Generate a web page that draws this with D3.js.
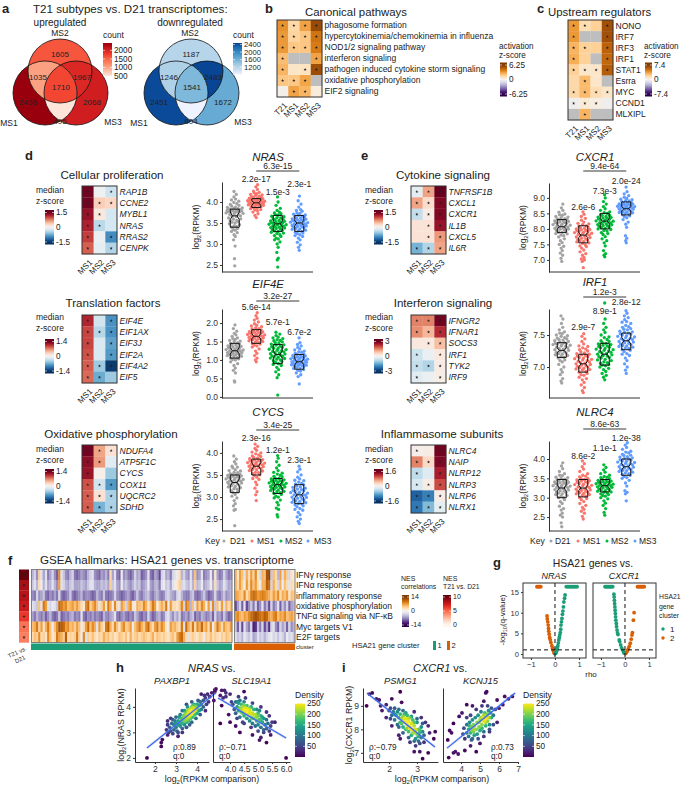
<!DOCTYPE html>
<html><head><meta charset="utf-8">
<script src="https://cdn.jsdelivr.net/npm/d3@7"></script>
<style>
body{margin:0;background:#fff}
text{font-family:"Liberation Sans",Arial,Helvetica,sans-serif;fill:#222}
.tick text{fill:#333}
</style></head><body><div id="chart"></div>
<script>
// venn counts: [sets, count]
const vennUp = [[[0],2436],[[1],1605],[[2],2068],[[0,1],1035],[[1,2],1967],[[0,2],495],[[0,1,2],1710]]
const vennDown = [[[0],2451],[[1],1187],[[2],1672],[[0,1],1246],[[1,2],2483],[[0,2],804],[[0,1,2],1541]]
const redsRamp = ["#FEE5D9","#FCBBA1","#FC9272","#FB6A4A","#EF3B2C","#CB181D","#99000D"]
const bluesRamp = ["#EFF3FF","#C6DBEF","#9ECAE1","#6BAED6","#4292C6","#2171B5","#084594"]

// panels b, c
const subtypes4 = ["T21","MS1","MS2","MS3"]
const subtypes3 = ["MS1","MS2","MS3"]
const pathways = ["phagosome formation","hypercytokinemia/chemokinemia in influenza","NOD1/2 signaling pathway","interferon signaling","pathogen induced cytokine storm signaling","oxidative phosphorylation","EIF2 signaling"]
const pathwayZ = [[3.4,1.4,3,5.6],[3.2,1.6,2,4.2],[3.2,2,2,4],[2.3,null,null,3],[2.5,.9,1,5.5],[2,2,2.9,null],[.1,3,2.5,.5]]
const pathwaySig = [[1,1,1,1],[1,1,1,1],[1,1,1,1],[1,0,0,1],[1,0,1,1],[1,1,1,0],[0,1,1,0]]
const regulators = ["NONO","IRF7","IRF3","IRF1","STAT1","Esrra","MYC","CCND1","MLXIPL"]
const regulatorZ = [[3.8,1.5,2,6.4],[3.8,null,null,6.4],[3,2,2,5.6],[3.2,2,null,5.4],[2,1,1,5.8],[1.7,2.8,1,null],[1.7,2.8,1.5,1],[-.2,.7,.4,-.2],[null,3,null,null]]
const regulatorSig = [[1,1,0,1],[1,0,0,1],[1,1,0,1],[1,0,0,1],[1,1,1,1],[0,1,0,0],[1,1,1,1],[1,1,1,0],[0,1,0,0]]

// panels d, e heatmaps
const prolifGenes = ["RAP1B","CCNE2","MYBL1","NRAS","RRAS2","CENPK"]
const prolifZ = [[1.45,-.05,-.3],[1.45,.35,.3],[1.3,.15,-.25],[1.2,-.4,-.25],[1.05,-.08,-.95],[.9,-.15,-.45]]
const prolifSig = [[1,0,1],[1,1,1],[1,1,0],[1,1,0],[1,0,1],[1,0,1]]
const transGenes = ["EIF4E","EIF1AX","EIF3J","EIF2A","EIF4A2","EIF5"]
const transZ = [[1.1,-.25,-.85],[.95,-.4,-.85],[.95,-.2,-.75],[.9,-.2,-.8],[.85,-.5,-1.35],[.8,-.7,-.5]]
const transSig = [[1,0,1],[1,1,1],[1,0,1],[1,0,1],[1,1,1],[1,1,0]]
const oxphosGenes = ["NDUFA4","ATP5F1C","CYCS","COX11","UQCRC2","SDHD"]
const oxphosZ = [[1.35,.55,.2],[1.25,.6,-.15],[1.2,.05,-.5],[.9,-.25,-.8],[.85,.2,-.45],[.85,-.65,-.45]]
const oxphosSig = [[1,1,1],[1,1,0],[1,0,0],[1,1,1],[1,1,1],[1,1,1]]
const cytoGenes = ["TNFRSF1B","CXCL1","CXCR1","IL1B","CXCL5","IL6R"]
const cytoZ = [[-.15,.6,1.5],[.6,.25,1.4],[-.35,.1,1.4],[.2,.2,1.3],[.2,.2,.65],[-.7,-.45,.6]]
const cytoSig = [[1,1,1],[1,1,1],[1,1,1],[0,1,1],[0,1,1],[1,1,1]]
const ifnGenes = ["IFNGR2","IFNAR1","SOCS3","IRF1","TYK2","IRF9"]
const ifnZ = [[1.5,1.5,2.9],[1.4,1,2.3],[.3,.3,.9],[-.6,-.2,.3],[-.7,-.9,.2],[-.35,-.15,.15]]
const ifnSig = [[1,1,1],[1,1,1],[0,1,1],[1,0,1],[1,1,1],[1,0,1]]
const inflamGenes = ["NLRC4","NAIP","NLRP12","NLRP3","NLRP6","NLRX1"]
const inflamZ = [[.07,.1,1.55],[.8,.3,1.5],[-.4,-.2,1.3],[-.25,.1,1.05],[-1.3,-1.1,.1],[-1.15,-.7,-.15]]
const inflamSig = [[1,0,1],[1,1,1],[1,0,1],[1,1,1],[1,1,1],[1,1,1]]

// swarm values, log2 RPKM
const nrasD21 = [2.48,2.65,2.95,3.1,3.18,3.22,3.27,3.3,3.34,3.37,3.4,3.43,3.46,3.5,3.53,3.56,3.59,3.62,3.65,3.67,3.7,3.72,3.74,3.76,3.77,3.78,3.79,3.8,3.8,3.82,3.84,3.86,3.88,3.92,3.96,4.02,4.07,4.12,4.18,4.25,3.33,3.41,3.48,3.55,3.6,3.66,3.7,3.73,3.75,3.77,3.79,3.81,3.83,3.85,3.87,3.9,3.94,3.99,4.05,3.52]
const nrasMS1 = [3.63,3.68,3.72,3.76,3.79,3.82,3.84,3.86,3.88,3.9,3.91,3.93,3.94,3.95,3.96,3.97,3.98,3.99,4,4,4.01,4.02,4.03,4.04,4.05,4.06,4.08,4.1,4.12,4.14,4.16,4.18,4.2,4.23,4.26,4.3,4.36,4.41,3.81,3.85,3.89,3.92,3.94,3.96,3.98,4,4.01,4.03,4.05,4.07,4.09,4.11,4.13,4.17,4.22]
const nrasMS2 = [2.45,2.62,2.66,2.8,2.92,3,3.05,3.1,3.14,3.18,3.22,3.25,3.28,3.31,3.34,3.36,3.38,3.4,3.42,3.44,3.46,3.48,3.5,3.52,3.54,3.56,3.58,3.6,3.63,3.66,3.69,3.72,3.76,3.8,3.85,3.92,4,4.12,3.12,3.2,3.26,3.3,3.33,3.37,3.39,3.41,3.43,3.45,3.47,3.49,3.51,3.53,3.55,3.59,3.62,3.65,3.7,3.74]
const nrasMS3 = [2.85,2.92,2.98,3.04,3.1,3.14,3.18,3.22,3.25,3.28,3.3,3.33,3.35,3.37,3.39,3.41,3.43,3.45,3.47,3.49,3.5,3.52,3.54,3.56,3.58,3.6,3.62,3.64,3.66,3.68,3.71,3.74,3.78,3.82,3.88,3.95,4.03,4.14,3.2,3.26,3.31,3.36,3.4,3.42,3.44,3.46,3.48,3.51,3.53,3.55,3.57,3.59,3.61,3.65,3.69,3.73,3.8]
const eif4eD21 = [.4,.43,.65,.72,.78,.85,.9,.95,1,1.03,1.06,1.09,1.12,1.14,1.16,1.18,1.2,1.22,1.24,1.26,1.28,1.3,1.33,1.35,1.38,1.4,1.43,1.46,1.5,1.53,1.56,1.6,1.64,1.68,1.72,1.78,1.85,1.95,1.01,1.05,1.1,1.13,1.15,1.17,1.19,1.21,1.23,1.25,1.27,1.29,1.31,1.34,1.37,1.41,1.45,1.51,1.58]
const eif4eMS1 = [.95,1,1.05,1.12,1.18,1.24,1.3,1.35,1.4,1.44,1.47,1.5,1.53,1.55,1.57,1.59,1.61,1.63,1.65,1.67,1.69,1.71,1.73,1.75,1.77,1.79,1.81,1.84,1.87,1.9,1.94,1.98,2.03,2.08,2.13,2.2,2.28,1.38,1.43,1.48,1.52,1.56,1.58,1.6,1.62,1.64,1.66,1.68,1.7,1.72,1.74,1.76,1.8,1.85,1.92]
const eif4eMS2 = [.05,.52,.6,.68,.74,.8,.85,.9,.94,.98,1.02,1.05,1.08,1.11,1.14,1.17,1.2,1.23,1.26,1.29,1.31,1.34,1.37,1.4,1.43,1.46,1.49,1.52,1.55,1.58,1.62,1.66,1.7,1.75,.88,.96,1,1.04,1.07,1.1,1.13,1.16,1.19,1.22,1.25,1.28,1.32,1.36,1.41,1.47,1.53,1.6]
const eif4eMS3 = [.35,.55,.6,.65,.7,.74,.77,.8,.83,.85,.87,.89,.91,.93,.95,.97,.99,1.01,1.03,1.05,1.07,1.09,1.11,1.13,1.15,1.18,1.21,1.24,1.27,1.3,1.34,1.38,1.42,1.47,1.6,.72,.78,.82,.84,.86,.88,.9,.92,.94,.96,.98,1,1.02,1.04,1.06,1.08,1.12,1.16,1.22]
const cycsD21 = [2.35,2.7,2.72,2.8,2.85,2.92,2.98,3.02,3.06,3.1,3.14,3.18,3.21,3.24,3.27,3.29,3.31,3.33,3.35,3.37,3.39,3.41,3.43,3.45,3.47,3.49,3.51,3.53,3.56,3.59,3.62,3.66,3.7,3.75,3.8,3.86,3.93,3.12,3.19,3.23,3.26,3.3,3.32,3.34,3.36,3.38,3.4,3.42,3.44,3.46,3.48,3.5,3.52,3.55,3.6,3.68]
const cycsMS1 = [2.92,3.05,3.12,3.2,3.28,3.34,3.4,3.45,3.49,3.53,3.56,3.59,3.62,3.65,3.67,3.69,3.71,3.73,3.75,3.77,3.79,3.81,3.83,3.85,3.87,3.9,3.92,3.95,3.98,4.02,4.06,4.1,4.15,4.2,3.42,3.5,3.55,3.6,3.63,3.66,3.68,3.7,3.72,3.74,3.76,3.78,3.8,3.82,3.84,3.88,3.93,4]
const cycsMS2 = [2.55,2.6,2.72,2.75,2.82,2.88,2.93,2.98,3.02,3.06,3.1,3.13,3.16,3.19,3.21,3.23,3.25,3.27,3.29,3.31,3.33,3.35,3.37,3.39,3.41,3.43,3.46,3.49,3.52,3.56,3.6,3.66,3.72,3.8,3.88,3.94,3,3.08,3.12,3.15,3.18,3.2,3.22,3.24,3.26,3.28,3.3,3.32,3.34,3.36,3.38,3.42,3.47,3.54]
const cycsMS3 = [2.4,2.45,2.5,2.55,2.6,2.65,2.7,2.74,2.78,2.82,2.85,2.88,2.91,2.94,2.97,3,3.03,3.05,3.08,3.1,3.12,3.15,3.17,3.2,3.22,3.25,3.28,3.31,3.34,3.37,3.41,3.45,3.5,3.57,3.63,3.7,2.72,2.8,2.84,2.87,2.9,2.93,2.96,2.99,3.01,3.04,3.06,3.09,3.11,3.14,3.18,3.23,3.3,3.38]
const cxcr1D21 = [6.95,7.05,7.15,7.22,7.3,7.38,7.44,7.5,7.56,7.62,7.68,7.74,7.8,7.85,7.89,7.93,7.97,8,8.03,8.06,8.09,8.12,8.15,8.18,8.21,8.24,8.27,8.3,8.33,8.36,8.4,8.44,8.48,8.54,8.6,8.68,8.8,7.78,7.84,7.9,7.95,7.99,8.02,8.05,8.08,8.11,8.14,8.17,8.2,8.23,8.26,8.29,8.32,8.38,8.46]
const cxcr1MS1 = [6.75,6.95,7,7.03,7.08,7.15,7.2,7.26,7.32,7.38,7.43,7.48,7.53,7.58,7.62,7.66,7.7,7.74,7.78,7.82,7.85,7.88,7.91,7.94,7.97,8,8.03,8.06,8.1,8.14,8.18,8.22,8.28,8.34,8.4,8.47,8.55,7.45,7.55,7.6,7.64,7.68,7.72,7.76,7.8,7.83,7.86,7.89,7.92,7.95,7.98,8.02,8.08,8.16]
const cxcr1MS2 = [7.1,7.15,7.2,7.3,7.45,7.55,7.62,7.68,7.75,7.82,7.88,7.93,7.98,8.02,8.06,8.1,8.13,8.16,8.19,8.22,8.25,8.28,8.31,8.34,8.37,8.4,8.43,8.46,8.5,8.55,8.6,8.65,8.72,8.8,8.88,9,9.1,7.85,7.95,8,8.04,8.08,8.11,8.14,8.17,8.2,8.23,8.26,8.29,8.32,8.35,8.38,8.44,8.52]
const cxcr1MS3 = [7.55,7.62,7.7,7.78,8.05,8.15,8.22,8.3,8.36,8.42,8.46,8.5,8.53,8.56,8.59,8.62,8.65,8.67,8.69,8.71,8.73,8.75,8.77,8.79,8.81,8.83,8.85,8.88,8.91,8.94,8.98,9.02,9.07,9.13,9.2,9.35,8.4,8.48,8.52,8.55,8.58,8.61,8.64,8.66,8.68,8.7,8.72,8.74,8.76,8.78,8.8,8.84,8.9,8.96]
const irf1D21 = [6.75,6.78,6.82,6.88,6.92,6.96,7,7.04,7.08,7.11,7.14,7.16,7.18,7.2,7.22,7.24,7.26,7.28,7.3,7.32,7.33,7.34,7.35,7.36,7.37,7.38,7.4,7.42,7.44,7.46,7.48,7.5,7.52,7.55,7.58,7.62,7.68,7.75,7.8,7.1,7.15,7.19,7.21,7.23,7.25,7.27,7.29,7.31,7.35,7.37,7.39,7.41,7.43,7.45,7.49,7.53]
const irf1MS1 = [6.6,6.63,6.68,6.72,6.76,6.8,6.84,6.87,6.9,6.93,6.95,6.97,6.99,7.01,7.03,7.05,7.07,7.09,7.1,7.12,7.14,7.16,7.18,7.2,7.22,7.25,7.27,7.3,7.33,7.36,7.4,7.44,7.48,7.52,6.82,6.88,6.92,6.96,6.98,7,7.02,7.04,7.06,7.08,7.11,7.13,7.15,7.17,7.19,7.21,7.24,7.28,7.32]
const irf1MS2 = [6.8,6.84,6.87,6.9,6.93,6.96,6.98,7,7.02,7.04,7.06,7.08,7.1,7.12,7.14,7.16,7.18,7.2,7.22,7.24,7.26,7.28,7.3,7.32,7.34,7.36,7.38,7.4,7.43,7.46,7.5,7.54,7.58,7.62,7.68,7.75,8,7.03,7.07,7.11,7.15,7.17,7.19,7.21,7.23,7.25,7.27,7.29,7.31,7.33,7.35,7.37,7.41,7.47]
const irf1MS3 = [6.9,6.95,7,7.05,7.1,7.14,7.18,7.21,7.24,7.27,7.3,7.32,7.34,7.36,7.38,7.4,7.42,7.44,7.46,7.48,7.5,7.52,7.54,7.56,7.58,7.6,7.62,7.65,7.68,7.71,7.74,7.77,7.8,7.84,7.88,7.2,7.26,7.29,7.31,7.33,7.35,7.37,7.39,7.41,7.43,7.45,7.47,7.49,7.51,7.53,7.55,7.59,7.63,7.7]
const nlrc4D21 = [2.25,2.35,2.5,2.55,2.6,2.68,2.72,2.78,2.85,2.9,2.95,3,3.04,3.08,3.12,3.15,3.18,3.2,3.23,3.26,3.28,3.3,3.33,3.35,3.38,3.4,3.42,3.45,3.48,3.5,3.53,3.57,3.62,3.68,3.75,3.82,3.9,3,3.06,3.1,3.14,3.17,3.21,3.25,3.27,3.29,3.31,3.34,3.37,3.39,3.41,3.44,3.47,3.52,3.58]
const nlrc4MS1 = [2.45,2.52,2.6,2.65,2.7,2.75,2.8,2.85,2.9,2.95,3,3.04,3.08,3.11,3.14,3.17,3.2,3.23,3.26,3.29,3.32,3.35,3.38,3.41,3.44,3.47,3.5,3.54,3.58,3.62,3.68,3.74,3.8,3.88,3.95,2.98,3.06,3.1,3.13,3.16,3.19,3.22,3.25,3.28,3.31,3.34,3.37,3.4,3.43,3.46,3.5,3.56]
const nlrc4MS2 = [2.55,2.62,2.72,2.8,2.86,2.92,2.97,3,3.04,3.08,3.12,3.15,3.18,3.21,3.24,3.27,3.29,3.31,3.33,3.35,3.37,3.39,3.41,3.43,3.46,3.49,3.52,3.55,3.58,3.62,3.66,3.72,3.78,3.85,3.06,3.1,3.14,3.17,3.2,3.23,3.26,3.28,3.3,3.32,3.34,3.36,3.38,3.4,3.42,3.45,3.48,3.53]
const nlrc4MS3 = [2.92,3.1,3.14,3.18,3.3,3.38,3.45,3.5,3.55,3.6,3.64,3.68,3.71,3.74,3.77,3.8,3.83,3.86,3.89,3.92,3.95,3.98,4,4.03,4.06,4.09,4.12,4.16,4.2,4.25,4.3,4.36,4.42,3.52,3.58,3.62,3.66,3.7,3.73,3.76,3.79,3.82,3.85,3.88,3.91,3.94,3.97,4.01,4.05,4.1,4.18]

// notched boxes: q1, notch low, median, notch high, q3
const nrasBox = [[3.4,3.58,3.67,3.76,3.83],[3.87,3.92,3.98,4.04,4.08],[3.3,3.42,3.48,3.54,3.68],[3.3,3.44,3.5,3.56,3.68]]
const eif4eBox = [[1.05,1.16,1.25,1.34,1.45],[1.45,1.57,1.64,1.71,1.82],[.9,1.05,1.15,1.25,1.42],[.75,.87,.95,1.03,1.15]]
const cycsBox = [[3.1,3.25,3.33,3.41,3.5],[3.5,3.62,3.7,3.78,3.86],[3.08,3.2,3.28,3.36,3.42],[2.85,2.98,3.05,3.12,3.28]]
const cxcr1Box = [[7.88,8,8.07,8.14,8.3],[7.55,7.72,7.8,7.88,8.1],[8,8.17,8.25,8.33,8.5],[8.45,8.58,8.65,8.72,8.87]]
const irf1Box = [[7.15,7.22,7.26,7.3,7.38],[6.92,7,7.05,7.1,7.2],[7.03,7.14,7.2,7.26,7.37],[7.27,7.36,7.41,7.46,7.53]]
const nlrc4Box = [[3,3.17,3.25,3.33,3.47],[3.02,3.18,3.25,3.32,3.47],[3.15,3.25,3.31,3.37,3.47],[3.58,3.72,3.8,3.88,4]]
const groupNames = ["D21","MS1","MS2","MS3"]
const groupColors = ["#A3A3A3","#F8766D","#00BA38","#619CFF"]

// panel f
const hallmarks = ["IFN\u03B3 response","IFN\u03B1 response","inflammatory response","oxidative phosphorylation","TNF\u03B1 signaling via NF-\u03BAB","Myc targets V1","E2F targets"]
const t21Nes = [10,8.6,8.2,7.6,6.4,4.7,4.3]
const nesCluster1 = [
[-5,-3,-7,4,-2,-6,-2,-8,-6,-3,-7,-9,8,-2,-4,-7,-8,-5,-3,-8,-9,-8,-6,-7,-8,-5,-3,-2,-7,-8,-9,-6,-7,-5,-8,3,-6,-2,-8,-9,-1,-7,-6,-8,-9,-7,-3,-6,-5,-9,-8,-7,-2,-8,-9,-6,-7,-10,-3,-2,-6,-5,-8,-3,-2,-1,3,-5,-3,-6,-7,-2,-6,5,-7,-6,-2,-8,-7,-6,-1,-7,2,-6,-8,-7,-3,-6,-8,-7],
[-4,-2,-5,3,-1,-5,-2,-6,-5,-2,-5,-7,7,-2,-3,-5,-6,-4,-3,-6,-6,-6,-4,-5,-6,-4,-2,-2,-5,-6,-6,-4,-5,-4,-6,4,-4,-2,-6,-7,-1,-5,-4,-6,-7,-5,-3,-5,-4,-7,-6,-5,-1,-6,-7,-5,-5,-8,-2,-1,-4,-3,-6,-2,-1,2,4,-3,-2,-4,-5,-2,-5,4,-5,-4,-1,-6,-5,-4,-1,-5,3,-4,-6,-5,-2,-4,-6,-5],
[-7,-8,-3,-7,-6,-4,-8,-9,-7,-8,-6,-8,-3,-8,-9,-8,-7,-4,-8,-9,-8,-7,-5,-8,-7,-7,-8,-9,-8,-5,-7,-8,-4,-8,-9,-8,-7,-3,-7,-8,-9,-8,-7,-6,-8,-9,-7,-4,-7,-8,-6,-5,-4,-7,-8,-6,-5,-7,-8,-7,-4,-3,-5,-6,-7,-3,-2,-5,-7,-8,-8,-5,-4,-8,-9,-8,-6,-4,-7,-9,-8,-7,-3,-7,-8,-6,-4,-7,-6,-5],
[-2,-3,-4,5,-2,9,7,-2,-3,-1,-2,-4,10,9,7,8,5,6,7,5,7,5,3,1,8,10,4,6,8,5,-2,4,7,2,9,6,-1,8,3,-2,7,5,-3,6,8,2,-1,6,5,4,8,6,2,5,9,7,1,4,6,4,9,-1,7,3,3,2,4,8,-3,9,7,-5,5,-2,7,4,8,6,1,7,-2,8,-4,5,2,7,-2,6,3,5],
[-6,-8,-5,-7,-8,-6,-9,-7,-5,-8,-9,-8,-4,-9,-8,-7,-8,-6,-5,-8,-7,-8,-2,-8,-9,-7,-8,-6,-8,-7,-8,-9,-5,-7,-8,-6,-5,-2,-8,-9,-7,-6,-8,-9,-7,-8,-4,-6,-8,-9,-7,-8,-3,-7,-9,-8,-6,-5,-8,-7,-3,-2,-5,-7,-4,-6,-3,-8,-7,-6,-8,-5,-4,-9,-7,-8,-5,-6,-8,-7,-5,-9,-3,-7,-6,-8,-4,-7,-9,-8],
[5,6,9,4,7,2,6,9,5,-1,5,8,12,11,10,7,8,5,6,4,7,5,-1,3,7,10,5,8,6,-2,7,4,2,9,11,6,3,8,5,2,6,8,4,5,7,-1,5,7,9,6,4,8,10,5,3,7,9,5,8,6,2,-1,7,5,6,4,3,9,-2,10,6,4,9,3,8,6,10,5,7,3,8,-1,5,9,6,3,7,5,4,7],
[3,5,4,8,3,4,2,8,5,2,3,9,7,6,4,11,3,4,3,4,9,4,-1,8,-2,4,3,5,3,2,4,3,6,4,5,3,4,2,3,5,4,3,5,2,6,3,4,5,3,4,5,4,3,4,6,3,5,4,3,4,3,2,4,5,3,7,9,10,6,3,-2,3,4,3,2,4,3,-1,4,3,5,3,4,3,2,4,3,5,4,3]]
const nesCluster2 = [
[6,2,7,5,-2,6,3,7,4,8,2,-3,6,5,12,13,-4,5,3,-5,7,-2,6,4,-3,2,1],
[6,3,7,4,1,7,3,8,5,7,3,-1,6,6,11,10,-3,6,3,-3,6,-1,5,3,-2,3,2],
[7,6,5,4,8,3,5,9,10,9,7,8,9,8,7,6,4,7,5,8,3,6,5,7,2,5,4],
[-10,-6,-3,-9,-2,-10,-7,-4,-8,-3,-9,-7,-2,-8,-5,-10,-3,-8,-6,-2,-9,-4,-7,-3,-9,-6,-5],
[7,8,6,5,7,6,8,10,11,12,11,10,9,11,10,7,6,8,9,5,7,6,8,5,6,7,5],
[-4,-9,-3,-10,-2,-6,-8,-3,-12,-11,-4,-8,-3,-10,-6,-11,-3,-2,-7,-9,-3,-6,-4,-9,-3,-7,-5],
[-2,-4,-3,-5,-1,-3,-4,-2,-6,-5,-2,-4,-3,-5,-3,-2,-1,-3,-2,-4,-2,-3,-5,-1,-3,-2,-4]]
const clusterColors = ["#1B9E77","#D95F02"]

// panel g: rho, -log10 q
const nrasVolcano1 = [[.47,16.3],[.52,16.3],[.57,16.3],[.62,16.3],[.67,16.3],[.72,16.3],[.77,16.3],[.82,16.3],[.87,16.3],[.92,16.3],[.02,.1],[.04,.3],[.06,.6],[.08,1],[.1,1.5],[.12,2],[.14,2.7],[.16,3.4],[.18,4],[.2,4.6],[.22,5.2],[.24,6],[.25,7],[.27,7.8],[.29,8.6],[.31,9.6],[.33,10.4],[.35,11.4],[.37,12.6],[.4,13.5],[.42,14.3]]
const nrasVolcano2 = [[-.75,16.3],[-.71,16.3],[-.67,16.3],[-.63,16.3],[-.59,16.3],[-.33,9.2],[-.32,8.5],[-.3,7.8],[-.28,7],[-.27,6.2],[-.26,5.5],[-.24,4.8],[-.22,4],[-.2,3.5],[-.17,2.8],[-.13,2],[-.1,1.4],[-.07,.8],[-.04,.3],[-.02,.1]]
const cxcr1Volcano1 = [[-.83,16.3],[-.79,16.3],[-.75,16.3],[-.71,16.3],[-.67,16.3],[-.63,16.3],[-.59,16.3],[-.55,16.3],[-.51,16.3],[-.46,14.5],[-.45,13.8],[-.44,13],[-.43,12.2],[-.42,11.4],[-.41,10.6],[-.4,9.8],[-.39,9],[-.38,8.2],[-.36,7.4],[-.35,6.6],[-.33,5.8],[-.31,5.1],[-.29,4.7],[-.24,3.4],[-.22,3],[-.18,2.2],[-.14,1.5],[-.1,1],[-.06,.5],[-.03,.2]]
const cxcr1Volcano2 = [[.52,16.3],[.56,16.3],[.6,16.3],[.64,16.3],[.68,16.3],[.72,16.3],[.76,16.3],[.8,16.3],[.38,10],[.35,8.2],[.31,5.2],[.29,4.6],[.26,3.6],[.22,2.6],[.18,1.9],[.14,1.3],[.1,.8],[.06,.4],[.03,.1]]

// panels h, i: comparison gene, NRAS or CXCR1
const paxbp1Points = [[1.62,2],[2.3,2.45],[2.3,2.6],[2.35,2.72],[2.6,2.9],[2.55,3.1],[2.6,3.3],[2.6,3.45],[2.7,3.2],[2.65,3],[2.75,3.05],[2.85,2.95],[2.9,3.1],[2.8,3.35],[2.85,3.5],[2.9,3.3],[2.95,3.45],[3,3.2],[3,3.35],[3.05,3.05],[3.1,3],[3.1,3.3],[3.1,3.45],[3.15,3.6],[3.2,3.25],[3.2,3.4],[3.25,3.55],[3.3,3.15],[3.3,3.35],[3.3,3.5],[3.35,3.65],[3.4,3.3],[3.4,3.45],[3.4,3.6],[3.45,3.75],[3.5,3.4],[3.5,3.55],[3.5,3.7],[3.55,3.85],[3.6,3.45],[3.6,3.6],[3.6,3.75],[3.65,3.9],[3.7,3.55],[3.7,3.7],[3.7,3.85],[3.75,4],[3.8,3.6],[3.8,3.8],[3.8,3.95],[3.85,4.1],[3.9,3.7],[3.9,3.9],[3.9,4.05],[4,3.75],[4,3.95],[4,4.1],[4.05,4.25],[4.1,3.85],[4.1,4.05],[4.15,4.2],[4.2,3.9],[4.2,4.1],[4.3,4],[4.3,4.25],[4.35,4.45],[4.4,3.85],[4.4,4.35],[4.45,4.1],[4.5,4.5],[4.55,4.2],[4.7,4.55],[4.8,4.25],[4.85,4.6],[4.9,4.7],[4.2,4.5],[3.5,4.1],[3.3,3.85],[3.65,3.3],[3.1,2.85],[4.6,4.4],[2.75,3.55],[3,3.6],[3.2,3.7],[3.4,3.85],[3.55,4],[3.75,4.2],[3.3,3],[3.5,3.2],[3.75,3.4],[3.95,3.55],[4.15,3.7],[3.45,3.5],[3.6,3.85],[3.65,3.65],[3.75,3.75],[3.85,3.85],[3.95,4],[3.55,3.5],[3.85,3.95],[3.8,4.05],[3.9,3.85]]
const slc19a1Points = [[3.7,4.65],[3.8,4.65],[3.85,4.55],[3.65,4.45],[3.75,4.35],[3.85,4.4],[3.7,4.05],[3.65,3.35],[3.95,3.7],[4,4.5],[4.5,4.6],[4,3.4],[4.2,3.25],[4.35,3],[4.45,3.4],[4.8,2.9],[5.05,2.7],[5.3,2.6],[5.45,2.9],[5.5,3.4],[5.6,3.4],[5.4,3.65],[6,2],[5.2,3.1],[5.1,2.8],[4.1,4.1],[4.15,3.9],[4.2,4.2],[4.2,3.75],[4.25,4],[4.3,4.15],[4.3,3.85],[4.35,3.6],[4.35,3.95],[4.4,4.1],[4.4,3.8],[4.45,4],[4.5,3.9],[4.5,3.65],[4.5,4.2],[4.55,3.8],[4.6,4.05],[4.6,3.55],[4.65,3.9],[4.65,3.7],[4.7,3.45],[4.7,3.85],[4.75,4],[4.75,3.6],[4.8,3.75],[4.8,3.35],[4.85,3.9],[4.85,3.55],[4.9,3.7],[4.9,3.25],[4.95,3.45],[5,3.65],[5,3.3],[5.05,3.85],[5.05,3.5],[5.1,3.2],[5.1,3.65],[5.15,3.4],[5.2,3.55],[5.2,3],[5.25,3.3],[5.3,3.5],[5.3,3.15],[5.35,3.35],[5.4,3.05],[4.55,3.95],[4.45,3.75],[4.7,3.75],[4.95,3.6],[4.6,3.85],[4.85,3.7],[5.1,3.45],[4.25,4.2],[4.05,4.2],[4.3,4.4],[4.55,4.35],[4.8,4.15],[5.1,4],[4.25,3.55],[4.5,3.35],[4.75,3.2],[5,3.05],[5.3,3.8],[5.45,3.25],[4.5,4.05],[4.7,3.95],[4.4,3.9],[4.8,3.55],[5,3.75],[5.15,3.6],[4.35,4.25],[4.95,3.9]]
const psmg1Points = [[1.2,9],[1.3,9.5],[1.4,9.55],[1.55,9.3],[1.65,9.25],[1.7,9],[1.75,8.8],[1.9,9.05],[2.1,9.3],[2.4,9.6],[2.45,9.15],[1.9,8.5],[2.05,8.45],[2.1,8.15],[2.35,7.75],[2.4,7.6],[2.75,7.45],[2.9,7.05],[2.95,7.3],[3.1,7.05],[3.2,6.75],[3.4,7],[3.45,7.85],[3.6,7.6],[3.65,7.9],[3.4,8.15],[3.3,8.3],[3.15,8.5],[2.9,8.75],[2,8.8],[2.05,8.9],[2.1,8.6],[2.15,8.75],[2.2,8.4],[2.2,8.9],[2.25,8.6],[2.3,8.2],[2.3,8.75],[2.35,8.5],[2.4,8.3],[2.4,8.65],[2.45,8.45],[2.5,8.1],[2.5,8.55],[2.5,8.8],[2.55,8.3],[2.6,8],[2.6,8.45],[2.65,8.2],[2.65,8.6],[2.7,7.9],[2.7,8.35],[2.75,8.1],[2.75,8.5],[2.8,7.75],[2.8,8.25],[2.85,8],[2.85,8.4],[2.9,7.85],[2.9,8.15],[2.95,8],[2.95,7.6],[3,7.8],[3,8.3],[3.05,8],[3.05,7.5],[3.1,7.85],[3.15,8.1],[3.15,7.65],[3.2,7.9],[3.25,7.45],[3.25,7.75],[2.55,8.65],[2.6,8.3],[2.75,8.05],[2.8,8],[2.95,7.95],[2.2,8.65],[2.35,8.85],[2.6,8.7],[2.8,8.55],[3,8.45],[3.2,8.25],[2.35,8.1],[2.5,7.85],[2.7,7.65],[2.9,7.5],[3.1,7.4],[2.45,8.25],[2.65,8.05],[2.85,7.85],[3.05,7.7],[2.7,8.45],[2.9,8.3],[2.55,8.45],[3.1,7.95]]
const kcnj15Points = [[3.3,7.55],[3.4,7.95],[3.5,7.85],[3.35,6.8],[3.6,7],[3.7,7.05],[3.85,6.95],[3.6,8.25],[3.9,8.55],[4.05,8.7],[4.3,9.05],[4.6,9],[5.2,9.2],[5.3,9.55],[5.35,9.6],[5.9,9.25],[6.3,9.4],[6.5,9.3],[6.7,9.4],[4.2,7.1],[4.5,7.3],[5,7.4],[4.8,7.05],[5.5,8],[5.9,8.3],[4.1,7.8],[4.15,8.05],[4.2,7.6],[4.3,7.85],[4.3,8.2],[4.4,7.7],[4.4,8],[4.45,8.3],[4.5,7.85],[4.55,8.1],[4.6,7.6],[4.6,8.4],[4.65,7.9],[4.7,8.15],[4.7,7.75],[4.75,8.5],[4.8,8],[4.85,7.8],[4.85,8.3],[4.9,8.6],[4.95,8.1],[5,7.95],[5,8.4],[5.05,8.75],[5.1,8.2],[5.15,8.5],[5.2,7.9],[5.2,8.35],[5.25,8.7],[5.3,8.15],[5.35,8.55],[5.4,8.35],[5.45,8.8],[5.5,8.5],[5.5,8.2],[5.55,8.7],[5.6,8.9],[5.7,8.6],[5.8,8.85],[6,8.9],[6.2,9.05],[4.6,7.95],[4.7,8],[5.3,8.45],[5.4,8.5],[4.5,8.6],[4.8,8.85],[5.1,9],[5.4,9],[4.3,8.5],[4.55,7.55],[4.9,7.6],[5.2,7.7],[5.5,7.9],[5.7,8.2],[4.65,8.2],[4.95,8.3],[5.1,8.05],[5.2,8.6],[5.4,8.65],[5.6,8.5],[4.45,8.15],[5.3,8.3],[5.05,8.5]]
const scatterLines = [[[1.62,2.39],[4.9,4.55]],[[3.57,4.35],[6,2.78]],[[1.21,9.55],[3.64,7.25]],[[3.26,7.2],[6.85,9.55]]]

const width = 683, height = 788
const svg = d3.select("#chart").append("svg").attr("width",width).attr("height",height)

function txt(x,y,s,o={}){
  let t = svg.append("text").attr("x",x).attr("y",y).attr("dy",".35em")
    .attr("font-size",o.size||8.5).attr("text-anchor",o.anchor||"start")
  if(o.style) t.attr("font-style",o.style)
  if(o.weight) t.attr("font-weight",o.weight)
  if(o.rotate!==undefined) t.attr("transform",`rotate(${o.rotate},${x},${y})`)
  if(o.html) t.html(s); else t.text(s)
  return t
}
const letter = (x,y,s)=>txt(x,y,s,{size:13,weight:"bold"})
const puor = (z,m)=>d3.interpolatePuOr(Math.max(0,Math.min(1,(1+z/m)/2)))
const rdbu = (z,m)=>d3.interpolateRdBu(Math.max(0,Math.min(1,(1-z/m)/2)))
const sub2 = s=>`log<tspan dy="1.8" font-size="6">2</tspan><tspan dy="-1.8">${s}</tspan>`

function legendBar(x,w,domain,range,color,ticks,size,pad=0){
  let id = "g"+Math.round(x)+"_"+Math.round(range[0])
  let y = d3.scaleLinear().domain(domain).range(range)
  let top = range[1]-pad, bottom = range[0]+pad
  let grad = svg.append("defs").append("linearGradient").attr("id",id)
    .attr("x1",0).attr("x2",0).attr("y1",1).attr("y2",0)
  d3.range(0,1.001,.05).forEach(t=>{
    grad.append("stop").attr("offset",t).attr("stop-color",color(y.invert(bottom+t*(top-bottom))))
  })
  svg.append("rect").attr("x",x).attr("y",top).attr("width",w).attr("height",bottom-top).attr("fill",`url(#${id})`)
  ticks.forEach(v=>{
    svg.append("path").attr("d",`M${x},${y(v)}h2M${x+w-2},${y(v)}h2`).attr("stroke","#fff").attr("stroke-width",.6)
    txt(x+w+2,y(v),v,{size:size||8.2})
  })
}

// a
function venn(cx,vals,ramp,dom){
  let circles = [[cx-15,93],[cx,71],[cx+16,93]]
  let color = d3.scaleLinear().domain(d3.range(ramp.length).map(i=>dom[0]+i*(dom[1]-dom[0])/(ramp.length-1))).range(ramp)
  let g = svg.append("g")
  let defs = svg.append("defs")
  circles.forEach((c,i)=>{
    defs.append("clipPath").attr("id",`v${cx}_${i}`).append("circle").attr("cx",c[0]).attr("cy",c[1]).attr("r",32)
  })
  vals.forEach(([sets,count])=>{
    let host = g
    sets.slice(1).forEach(s=>{ host = host.append("g").attr("clip-path",`url(#v${cx}_${s})`) })
    let c = circles[sets[0]]
    host.append("circle").attr("cx",c[0]).attr("cy",c[1]).attr("r",32).attr("fill",color(count))
  })
  circles.forEach(c=>{
    g.append("circle").attr("cx",c[0]).attr("cy",c[1]).attr("r",32).attr("fill","none").attr("stroke","#111").attr("stroke-width",.8)
  })
  let pos = [[cx-32,102],[cx,54],[cx+32,102],[cx-22,77],[cx+22,77],[cx,121],[cx+1,87.5]]
  vals.forEach(([sets,count],i)=>txt(pos[i][0],pos[i][1],count,{size:8,anchor:"middle"}))
  return color
}
letter(2,8,"a")
txt(33,9,"T21 subtypes vs. D21 transcriptomes:",{size:11.6})
txt(60,22,"upregulated",{size:10,anchor:"middle"})
txt(190,22,"downregulated",{size:10,anchor:"middle"})
let upColor = venn(60,vennUp,redsRamp,[495,2436])
let downColor = venn(191,vennDown,bluesRamp,[804,2483])
;[[60,33,"MS2"],[190,33,"MS2"],[9,123,"MS1"],[139,123,"MS1"],[113,122,"MS3"],[243,122,"MS3"]].forEach(d=>txt(d[0],d[1],d[2],{size:8.5,anchor:"middle"}))
txt(103,35,"count",{size:8.5})
legendBar(103,9,[495,2436],[76,43],upColor,[500,1000,1500,2000])
txt(233,35,"count",{size:8.5})
legendBar(233,9,[804,2483],[74.5,43],downColor,[1200,1600,2000,2400],7.6)

// heatmaps
function heat(x0,y0,w,h,rows,sig,cols,labels,color,italic){
  let x = d3.scaleBand().domain(d3.range(cols.length)).range([x0,x0+w])
  let y = d3.scaleBand().domain(d3.range(rows.length)).range([y0,y0+h])
  let g = svg.append("g")
  rows.forEach((r,i)=>{
    g.selectAll(null).data(r).enter().append("rect")
      .attr("x",(d,j)=>x(j)).attr("y",y(i)).attr("width",x.bandwidth()+.2).attr("height",y.bandwidth()+.2)
      .attr("fill",d=>d===null?"#BEBEBE":color(d))
    sig[i].forEach((s,j)=>{
      if(s) g.append("path").attr("d",d3.symbol(d3.symbolStar,3.2)).attr("fill","#222")
        .attr("transform",`translate(${x(j)+x.bandwidth()/2},${y(i)+y.bandwidth()/2})`)
    })
    txt(x0+w+2.5,y(i)+y.bandwidth()/2,labels[i],{size:8.5,style:italic?"italic":null})
  })
  g.append("rect").attr("x",x0).attr("y",y0).attr("width",w).attr("height",h).attr("fill","none").attr("stroke","#333").attr("stroke-width",1)
  cols.forEach((c,j)=>txt(x(j)+x.bandwidth()/2+3,y0+h+7,c,{size:8.2,anchor:"end",rotate:-45}))
}
letter(265,8,"b")
txt(305,12,"Canonical pathways",{size:11.4})
heat(277,20,45,77,pathwayZ,pathwaySig,subtypes4,pathways,z=>puor(z,6.25))
txt(499,46,"activation",{size:8.2}); txt(499,55,"z-score",{size:8.2})
legendBar(500,7,[-6.25,6.25],[94,65],z=>puor(z,6.25),[-6.25,0,6.25],8.2,2.5)
letter(537,8,"c")
txt(548,12,"Upstream regulators",{size:11.4})
heat(568,20,45,100,regulatorZ,regulatorSig,subtypes4,regulators,z=>puor(z,7.4))
txt(644,46,"activation",{size:8.2}); txt(644,55,"z-score",{size:8.2})
legendBar(645,7,[-7.4,7.4],[94,65],z=>puor(z,7.4),[-7.4,0,7.4],8.2,2.5)

function median(x,labelY,barTop,zmax,ticks){
  txt(x,labelY,"median",{size:8.5}); txt(x,labelY+11,"z-score",{size:8.5})
  legendBar(x+9,9,[-zmax,zmax],[barTop+32,barTop+2.5],z=>rdbu(z,zmax),ticks,8.2,2.5)
}
letter(25,155,"d"); letter(361,155,"e")
txt(112,175,"Cellular proliferation",{size:11.6,anchor:"middle"})
heat(82,186,35,68,prolifZ,prolifSig,subtypes3,prolifGenes,z=>rdbu(z,1.5),true)
median(36,190,210,1.5,[-1.5,0,1.5])
txt(113,303,"Translation factors",{size:11.6,anchor:"middle"})
heat(82,315,35,68,transZ,transSig,subtypes3,transGenes,z=>rdbu(z,1.4),true)
median(36,317,339,1.4,[-1.4,0,1.4])
txt(111,434,"Oxidative phosphorylation",{size:11.6,anchor:"middle"})
heat(82,445,35,68,oxphosZ,oxphosSig,subtypes3,oxphosGenes,z=>rdbu(z,1.4),true)
median(36,449,469,1.4,[-1.4,0,1.4])
txt(443,175,"Cytokine signaling",{size:11.6,anchor:"middle"})
heat(411,186,35,68,cytoZ,cytoSig,subtypes3,cytoGenes,z=>rdbu(z,1.5),true)
median(365,190,210,1.5,[-1.5,0,1.5])
txt(443,303,"Interferon signaling",{size:11.6,anchor:"middle"})
heat(411,315,35,68,ifnZ,ifnSig,subtypes3,ifnGenes,z=>rdbu(z,3),true)
median(365,317,339,3,[-3,0,3])
txt(442,434,"Inflammasome subunits",{size:11.6,anchor:"middle"})
heat(411,445,35,68,inflamZ,inflamSig,subtypes3,inflamGenes,z=>rdbu(z,1.6),true)
median(365,449,469,1.6,[-1.6,0,1.6])

// swarm panels
function styleAxis(g,size){
  g.selectAll(".domain").attr("stroke","#333").attr("stroke-width",1)
  g.selectAll(".tick line").attr("stroke","#333")
  g.selectAll(".tick text").attr("font-size",size||8.5)
  g.attr("font-family",null)
}
// quasirandom offsets: van der Corput order, width follows the local density
function vdc(i){ let r=0,f=.5; while(i>0){ r+=f*(i%2); i=Math.floor(i/2); f/=2 } return r }
function swarmX(vals,y,cx,w){
  let py = vals.slice().sort(d3.ascending).map(y)
  let dens = py.map(a=>d3.sum(py,b=>Math.exp(-((a-b)**2)/(2*36))))
  let mx = d3.max(dens)
  return py.map((v,i)=>[cx+(vdc(i+1)*2-1)*w*dens[i]/mx,v])
}
function swarmPanel(p){
  let y = d3.scaleLinear().domain(p.domain).range(p.range)
  let x = d3.scaleBand().domain(groupNames).range([p.x0,p.x0+86])
  let g = svg.append("g")
  p.values.forEach((vals,i)=>{
    let cx = x(groupNames[i])+x.bandwidth()/2
    g.selectAll(null).data(swarmX(vals,y,cx,9)).enter().append("circle")
      .attr("cx",d=>d[0]).attr("cy",d=>d[1]).attr("r",1.65).attr("fill",groupColors[i])
  })
  p.values.forEach((vals,i)=>{
    let cx = x(groupNames[i])+x.bandwidth()/2
    let b = p.box[i], w = 4.5, n = 2.4
    g.append("path").attr("fill","none").attr("stroke","#111").attr("stroke-width",1)
      .attr("d",`M${cx-w},${y(b[0])}V${y(b[1])}L${cx-n},${y(b[2])}L${cx-w},${y(b[3])}V${y(b[4])}H${cx+w}V${y(b[3])}L${cx+n},${y(b[2])}L${cx+w},${y(b[1])}V${y(b[0])}ZM${cx-n},${y(b[2])}H${cx+n}`)
    if(i) txt(cx,p.labelY[i-1],p.labels[i-1],{size:8.5,anchor:"middle"})
  })
  let ax = svg.append("g").attr("transform",`translate(${p.axisX},0)`).call(d3.axisLeft(y).tickValues(p.ticks).tickFormat(d3.format(".1f")).tickSize(2).tickPadding(2).tickSizeOuter(0))
  styleAxis(ax)
  svg.append("line").attr("x1",p.axisX).attr("x2",p.axisX+91).attr("y1",p.range[0]).attr("y2",p.range[0]).attr("stroke","#333")
  txt(p.x0+44,p.titleY,p.title,{size:11.4,anchor:"middle",style:"italic"})
  let bx0 = x("MS1")+x.bandwidth()/2, bx1 = x("MS3")+x.bandwidth()/2
  svg.append("line").attr("x1",bx0).attr("x2",bx1).attr("y1",p.barY).attr("y2",p.barY).attr("stroke","#222").attr("stroke-width",.9)
  txt((bx0+bx1)/2,p.barY-5,p.top,{size:8.5,anchor:"middle"})
  txt(p.axisX-26,(p.range[0]+p.range[1])/2,sub2("(RPKM)"),{size:8.5,anchor:"middle",rotate:-90,html:true})
}
const swarmPanels = [
 {title:"NRAS",values:[nrasD21,nrasMS1,nrasMS2,nrasMS3],box:nrasBox,domain:[2.333,4.476],range:[272,182],ticks:[2.5,3,3.5,4],axisX:222,x0:224,titleY:157,barY:171,top:"6.3e-15",labels:["2.2e-17","1.5e-3","2.3e-1"],labelY:[179,192,184]},
 {title:"EIF4E",values:[eif4eD21,eif4eMS1,eif4eMS2,eif4eMS3],box:eif4eBox,domain:[-.03,2.38],range:[398,309],ticks:[0,.5,1,1.5,2],axisX:222,x0:224,titleY:284,barY:301,top:"3.2e-27",labels:["5.6e-14","5.7e-1","6.7e-2"],labelY:[307,322,332]},
 {title:"CYCS",values:[cycsD21,cycsMS1,cycsMS2,cycsMS3],box:cycsBox,domain:[2.23,4.27],range:[531,441],ticks:[2.5,3,3.5,4],axisX:222,x0:224,titleY:412,barY:430,top:"3.4e-25",labels:["2.3e-16","1.2e-1","2.3e-1"],labelY:[438,450,460]},
 {title:"CXCR1",values:[cxcr1D21,cxcr1MS1,cxcr1MS2,cxcr1MS3],box:cxcr1Box,domain:[6.61,9.48],range:[272,183],ticks:[7,7.5,8,8.5,9],axisX:549,x0:551,titleY:157,barY:171,top:"9.4e-64",labels:["2.6e-6","7.3e-3","2.0e-24"],labelY:[207,191,181]},
 {title:"IRF1",values:[irf1D21,irf1MS1,irf1MS2,irf1MS3],box:irf1Box,domain:[6.516,7.906],range:[398,309],ticks:[7,7.5],axisX:549,x0:551,titleY:282,barY:297,top:"1.2e-3",labels:["2.9e-7","8.9e-1","2.8e-12"],labelY:[327,311,302]},
 {title:"NLRC4",values:[nlrc4D21,nlrc4MS1,nlrc4MS2,nlrc4MS3],box:nlrc4Box,domain:[2.14,4.465],range:[531,441],ticks:[2.5,3,3.5,4],axisX:549,x0:551,titleY:412,barY:429,top:"8.6e-63",labels:["8.6e-2","1.1e-1","1.2e-38"],labelY:[456,448,438]}
]
swarmPanels.forEach(swarmPanel)
function keyRow(x,dots,labels){
  txt(x,541,"Key",{size:8.5})
  groupNames.forEach((n,i)=>{
    svg.append("circle").attr("cx",dots[i]).attr("cy",541).attr("r",1.5).attr("fill",groupColors[i])
    txt(labels[i],541,n,{size:8.5})
  })
}
keyRow(205,[224,252,281,308],[230,257,285,314])
keyRow(530,[551,578,607,635],[555,583,611,639])

// f
letter(8,560,"f")
txt(40,560,"GSEA hallmarks: HSA21 genes vs. transcriptome",{size:11.6})
function nesBlock(data,x0,x1){
  let x = d3.scaleBand().domain(d3.range(data[0].length)).range([x0,x1])
  let y = d3.scaleBand().domain(d3.range(data.length)).range([569.5,642.5])
  data.forEach((r,i)=>{
    svg.append("g").selectAll("rect").data(r).enter().append("rect")
      .attr("x",(d,j)=>x(j)).attr("y",y(i)).attr("width",x.bandwidth()+.3).attr("height",y.bandwidth()+.2)
      .attr("fill",d=>puor(d,14))
  })
  svg.append("rect").attr("x",x0).attr("y",569.5).attr("width",x1-x0).attr("height",73).attr("fill","none").attr("stroke","#777").attr("stroke-width",.9)
  return y
}
let fy = nesBlock(nesCluster1,31.5,232)
nesBlock(nesCluster2,234.5,295)
t21Nes.forEach((v,i)=>{
  svg.append("rect").attr("x",19).attr("y",fy(i)).attr("width",10).attr("height",fy.bandwidth()+.2).attr("fill",d3.interpolateReds(v/10))
  svg.append("path").attr("d",d3.symbol(d3.symbolStar,3.2)).attr("fill","#222").attr("transform",`translate(24,${fy(i)+fy.bandwidth()/2})`)
  txt(296,fy(i)+fy.bandwidth()/2,hallmarks[i],{size:8.5})
})
svg.append("rect").attr("x",31).attr("y",643.5).attr("width",201).attr("height",6.5).attr("fill",clusterColors[0])
svg.append("rect").attr("x",234).attr("y",643.5).attr("width",61).attr("height",6.5).attr("fill",clusterColors[1])
txt(296,647,"cluster",{size:6})
txt(26,648,"T21 vs.",{size:6,anchor:"end",rotate:-25})
txt(25,657,"D21",{size:6,anchor:"end",rotate:-25})
txt(401,579,"NES",{size:7}); txt(401,587,"correlations",{size:6.8})
legendBar(402,7,[-14,14],[625,597],z=>puor(z,14),[-14,0,14],7,2)
txt(443,579,"NES",{size:7}); txt(443,587,"T21 vs. D21",{size:6.8})
legendBar(443,8,[0,10],[625,597],v=>d3.interpolateReds(Math.max(0,Math.min(1,v/10))),[0,5,10],7,2)
txt(352,645,"HSA21 gene cluster",{size:7.6})
svg.append("rect").attr("x",433).attr("y",641).attr("width",3).attr("height",9).attr("fill",clusterColors[0])
txt(437.5,645,"1",{size:7.6})
svg.append("rect").attr("x",447).attr("y",641).attr("width",3).attr("height",9).attr("fill",clusterColors[1])
txt(451.5,645,"2",{size:7.6})

// g
letter(493,562,"g")
txt(593,563,"HSA21 genes vs.",{size:10.4,anchor:"middle"})
function volcano(x0,title,c1,c2,showY){
  let x = d3.scaleLinear().domain([-1.33,1.29]).range([x0,x0+63])
  let y = d3.scaleLinear().domain([-.97,17.2]).range([658,583])
  let g = svg.append("g")
  ;[c2,c1].forEach((c,i)=>{
    g.selectAll(null).data(c).enter().append("circle").attr("cx",d=>x(d[0])).attr("cy",d=>y(d[1])).attr("r",1.9).attr("fill",clusterColors[1-i])
  })
  g.append("line").attr("x1",x(0)).attr("x2",x(0)).attr("y1",583).attr("y2",658).attr("stroke","#111").attr("stroke-dasharray","4,3").attr("stroke-width",1)
  g.append("line").attr("x1",x0).attr("x2",x0+63).attr("y1",y(1)).attr("y2",y(1)).attr("stroke","#111").attr("stroke-dasharray","4,3").attr("stroke-width",1)
  g.append("rect").attr("x",x0).attr("y",583).attr("width",63).attr("height",75).attr("fill","none").attr("stroke","#333")
  let bx = svg.append("g").attr("transform","translate(0,658)").call(d3.axisBottom(x).tickValues([-1,0,1]).tickFormat(d3.format("d")).tickSize(2).tickPadding(2))
  styleAxis(bx,7.6); bx.select(".domain").remove()
  if(showY){
    let ly = svg.append("g").attr("transform",`translate(${x0},0)`).call(d3.axisLeft(y).tickValues([0,5,10,15]).tickSize(2).tickPadding(2))
    styleAxis(ly,7.6); ly.select(".domain").remove()
  }
  txt(x0+31,576,title,{size:9,anchor:"middle",style:"italic"})
}
volcano(523,"NRAS",nrasVolcano1,nrasVolcano2,true)
volcano(593,"CXCR1",cxcr1Volcano1,cxcr1Volcano2,false)
txt(502,620,'-log<tspan dy="1.8" font-size="5.5">10</tspan><tspan dy="-1.8">(q-value)</tspan>',{size:8,anchor:"middle",rotate:-90,html:true})
txt(591,674,"rho",{size:8,anchor:"middle"})
txt(659,597,"HSA21",{size:6.8}); txt(659,607,"gene",{size:6.8}); txt(659,616,"cluster",{size:6.8})
clusterColors.forEach((c,i)=>{
  svg.append("circle").attr("cx",663).attr("cy",629+i*9).attr("r",1.7).attr("fill",c)
  txt(670,629+i*9,i+1,{size:8})
})

// h, i
function densityOf(pts){
  let h = 5
  let raw = pts.map(p=>d3.sum(pts,q=>Math.exp(-(((p[0]-q[0])**2+(p[1]-q[1])**2)/(2*h*h)))))
  let mx = d3.max(raw)
  return raw.map(v=>250*Math.pow((v-1)/(mx-1),1.5))
}
function scatter(p){
  let x = d3.scaleLinear().domain(p.xd).range(p.xr)
  let y = d3.scaleLinear().domain(p.yd).range([762,688])
  let px = p.points.map(d=>[x(d[0]),y(d[1])])
  let dens = densityOf(px)
  let order = d3.range(px.length).sort((a,b)=>dens[a]-dens[b])
  let g = svg.append("g")
  order.forEach(i=>{
    g.append("circle").attr("cx",px[i][0]).attr("cy",px[i][1]).attr("r",1.9).attr("fill",d3.interpolateViridis(dens[i]/250))
  })
  let l = d3.line().x(d=>x(d[0])).y(d=>y(d[1]))
  g.append("path").attr("d",l(p.line)).attr("stroke","#999").attr("stroke-opacity",.3).attr("stroke-width",2.6).attr("fill","none")
  g.append("path").attr("d",l(p.line)).attr("stroke","#3366FF").attr("stroke-width",1.2).attr("fill","none")
  let bx = svg.append("g").attr("transform","translate(0,762)").call(d3.axisBottom(x).tickValues(p.xt).tickFormat(d3.format(p.xf)).tickSize(2).tickPadding(2).tickSizeOuter(0))
  styleAxis(bx)
  let ly = svg.append("g").attr("transform",`translate(${p.xr[0]},0)`).call(d3.axisLeft(y).tickValues(p.yt).tickSize(p.showY?2:0).tickFormat(p.showY?d3.format("d"):"").tickPadding(2).tickSizeOuter(0))
  styleAxis(ly)
  txt((p.xr[0]+p.xr[1])/2,681,p.title,{size:9.4,anchor:"middle",style:"italic"})
  txt(p.tx,747,p.rho,{size:8.2}); txt(p.tx,756,"q:0",{size:8.2})
}
letter(116,667,"h")
txt(188,668,'<tspan font-style="italic">NRAS</tspan> vs.',{size:11,html:true})
scatter({points:paxbp1Points,line:scatterLines[0],xd:[1.05,4.57],xr:[135,209],yd:[1.84,4.74],xt:[2,3,4],xf:"d",yt:[2,3,4],showY:true,title:"PAXBP1",tx:173,rho:"\u03C1:0.89"})
scatter({points:slc19a1Points,line:scatterLines[1],xd:[3.39,6.14],xr:[213,290],yd:[1.84,4.74],xt:[4,4.5,5,5.5,6],xf:".1f",yt:[2,3,4],showY:false,title:"SLC19A1",tx:219,rho:"\u03C1:\u22120.71"})
txt(121,725,sub2("(NRAS RPKM)"),{size:8.8,anchor:"middle",rotate:-90,html:true})
txt(212,779,sub2("(RPKM comparison)"),{size:8.8,anchor:"middle",html:true})
letter(342,667,"i")
txt(413,668,'<tspan font-style="italic">CXCR1</tspan> vs.',{size:11,html:true})
scatter({points:psmg1Points,line:scatterLines[2],xd:[1.07,3.75],xr:[363,438],yd:[6.61,9.76],xt:[2,3],xf:"d",yt:[7,8,9],showY:true,title:"PSMG1",tx:369,rho:"\u03C1:\u22120.79"})
scatter({points:kcnj15Points,line:scatterLines[3],xd:[3.05,7],xr:[443,518],yd:[6.61,9.76],xt:[4,5,6,7],xf:"d",yt:[7,8,9],showY:false,title:"KCNJ15",tx:491,rho:"\u03C1:0.73"})
txt(349,725,sub2("(CXCR1 RPKM)"),{size:8.8,anchor:"middle",rotate:-90,html:true})
txt(442,779,sub2("(RPKM comparison)"),{size:8.8,anchor:"middle",html:true})
;[[295,10],[523,11]].forEach(([x,w])=>{
  txt(x,695,"Density",{size:8.7})
  legendBar(x,w,[0,250],[757,703.5],v=>d3.interpolateViridis(v/250),[50,100,150,200,250],8.2)
})
</script></body></html>
